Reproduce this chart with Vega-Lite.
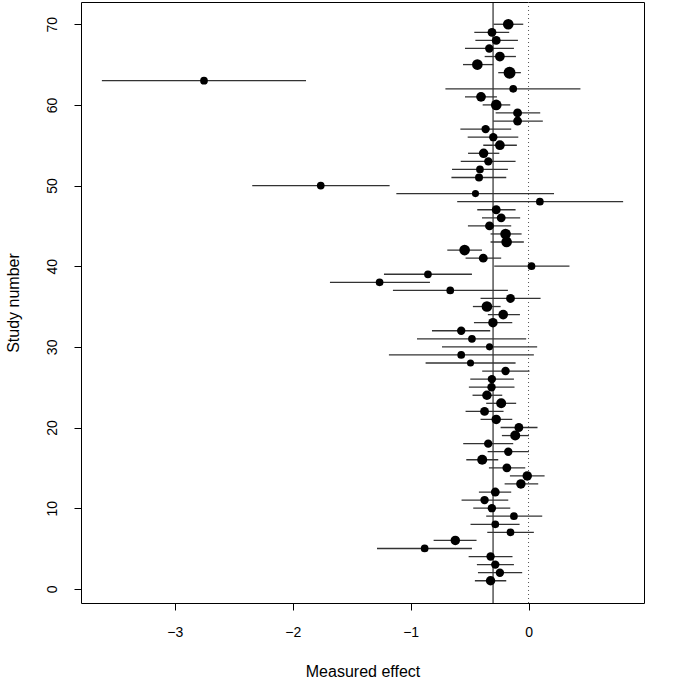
{
  "$schema": "https://vega.github.io/schema/vega-lite/v6.json",
  "width": 563,
  "height": 601,
  "autosize": {"type": "none"},
  "padding": {"left": 81, "top": 2, "right": 41, "bottom": 80},
  "background": "white",
  "config": {
    "view": {"stroke": "black", "strokeWidth": 1},
    "axis": {
      "grid": false,
      "domain": false,
      "ticks": true,
      "tickColor": "black",
      "tickSize": 7,
      "tickWidth": 1,
      "labelFont": "Liberation Sans",
      "labelFontSize": 14,
      "labelColor": "black",
      "titleFont": "Liberation Sans",
      "titleFontSize": 16,
      "titleFontWeight": "normal",
      "titleColor": "black",
      "format": "d"
    },
    "axisX": {"labelPadding": 15, "titlePadding": 24},
    "axisY": {"labelAngle": -90, "labelAlign": "center", "labelBaseline": "bottom", "labelPadding": 15, "titlePadding": 24}
  },
  "data": {
    "values": [
      {"study": 1, "est": -0.322, "lo": -0.455, "hi": -0.189, "w": 11.4},
      {"study": 2, "est": -0.243, "lo": -0.429, "hi": -0.054, "w": 9.0},
      {"study": 3, "est": -0.282, "lo": -0.438, "hi": -0.124, "w": 9.0},
      {"study": 4, "est": -0.322, "lo": -0.508, "hi": -0.136, "w": 9.0},
      {"study": 5, "est": -0.881, "lo": -1.285, "hi": -0.480, "w": 7.6},
      {"study": 6, "est": -0.621, "lo": -0.805, "hi": -0.441, "w": 11.4},
      {"study": 7, "est": -0.153, "lo": -0.350, "hi": 0.045, "w": 7.6},
      {"study": 8, "est": -0.282, "lo": -0.492, "hi": -0.076, "w": 7.6},
      {"study": 9, "est": -0.124, "lo": -0.359, "hi": 0.116, "w": 7.6},
      {"study": 10, "est": -0.311, "lo": -0.469, "hi": -0.155, "w": 9.0},
      {"study": 11, "est": -0.373, "lo": -0.568, "hi": -0.172, "w": 9.0},
      {"study": 12, "est": -0.282, "lo": -0.421, "hi": -0.147, "w": 10.0},
      {"study": 13, "est": -0.065, "lo": -0.203, "hi": 0.082, "w": 11.4},
      {"study": 14, "est": -0.011, "lo": -0.158, "hi": 0.136, "w": 11.4},
      {"study": 15, "est": -0.184, "lo": -0.336, "hi": -0.028, "w": 10.0},
      {"study": 16, "est": -0.393, "lo": -0.528, "hi": -0.257, "w": 12.8},
      {"study": 17, "est": -0.172, "lo": -0.347, "hi": 0.003, "w": 9.0},
      {"study": 18, "est": -0.342, "lo": -0.554, "hi": -0.130, "w": 9.0},
      {"study": 19, "est": -0.113, "lo": -0.226, "hi": 0.003, "w": 12.8},
      {"study": 20, "est": -0.082, "lo": -0.237, "hi": 0.076, "w": 10.0},
      {"study": 21, "est": -0.274, "lo": -0.407, "hi": -0.138, "w": 11.4},
      {"study": 22, "est": -0.373, "lo": -0.534, "hi": -0.212, "w": 10.0},
      {"study": 23, "est": -0.232, "lo": -0.359, "hi": -0.105, "w": 12.8},
      {"study": 24, "est": -0.353, "lo": -0.475, "hi": -0.223, "w": 11.4},
      {"study": 25, "est": -0.314, "lo": -0.506, "hi": -0.119, "w": 9.0},
      {"study": 26, "est": -0.311, "lo": -0.494, "hi": -0.124, "w": 9.0},
      {"study": 27, "est": -0.195, "lo": -0.393, "hi": 0.008, "w": 9.0},
      {"study": 28, "est": -0.492, "lo": -0.873, "hi": -0.110, "w": 6.4},
      {"study": 29, "est": -0.571, "lo": -1.184, "hi": 0.045, "w": 7.6},
      {"study": 30, "est": -0.331, "lo": -0.734, "hi": 0.073, "w": 6.4},
      {"study": 31, "est": -0.480, "lo": -0.946, "hi": -0.020, "w": 7.6},
      {"study": 32, "est": -0.571, "lo": -0.819, "hi": -0.325, "w": 9.0},
      {"study": 33, "est": -0.302, "lo": -0.463, "hi": -0.138, "w": 11.4},
      {"study": 34, "est": -0.215, "lo": -0.345, "hi": -0.073, "w": 12.1},
      {"study": 35, "est": -0.353, "lo": -0.472, "hi": -0.237, "w": 14.4},
      {"study": 36, "est": -0.153, "lo": -0.407, "hi": 0.102, "w": 10.0},
      {"study": 37, "est": -0.664, "lo": -1.150, "hi": -0.175, "w": 7.6},
      {"study": 38, "est": -1.263, "lo": -1.684, "hi": -0.836, "w": 7.6},
      {"study": 39, "est": -0.853, "lo": -1.226, "hi": -0.480, "w": 7.6},
      {"study": 40, "est": 0.025, "lo": -0.291, "hi": 0.347, "w": 7.6},
      {"study": 41, "est": -0.384, "lo": -0.534, "hi": -0.232, "w": 10.0},
      {"study": 42, "est": -0.542, "lo": -0.689, "hi": -0.395, "w": 14.4},
      {"study": 43, "est": -0.186, "lo": -0.322, "hi": -0.040, "w": 14.4},
      {"study": 44, "est": -0.195, "lo": -0.322, "hi": -0.059, "w": 14.4},
      {"study": 45, "est": -0.331, "lo": -0.514, "hi": -0.147, "w": 10.0},
      {"study": 46, "est": -0.232, "lo": -0.395, "hi": -0.071, "w": 10.0},
      {"study": 47, "est": -0.274, "lo": -0.435, "hi": -0.110, "w": 10.0},
      {"study": 48, "est": 0.096, "lo": -0.605, "hi": 0.802, "w": 7.6},
      {"study": 49, "est": -0.450, "lo": -1.121, "hi": 0.216, "w": 6.4},
      {"study": 50, "est": -1.762, "lo": -2.343, "hi": -1.178, "w": 7.6},
      {"study": 51, "est": -0.420, "lo": -0.654, "hi": -0.189, "w": 8.1},
      {"study": 52, "est": -0.412, "lo": -0.649, "hi": -0.175, "w": 7.6},
      {"study": 53, "est": -0.341, "lo": -0.575, "hi": -0.110, "w": 9.0},
      {"study": 54, "est": -0.381, "lo": -0.513, "hi": -0.248, "w": 11.4},
      {"study": 55, "est": -0.243, "lo": -0.384, "hi": -0.099, "w": 12.1},
      {"study": 56, "est": -0.299, "lo": -0.516, "hi": -0.087, "w": 9.0},
      {"study": 57, "est": -0.364, "lo": -0.578, "hi": -0.147, "w": 9.0},
      {"study": 58, "est": -0.093, "lo": -0.299, "hi": 0.121, "w": 10.0},
      {"study": 59, "est": -0.093, "lo": -0.279, "hi": 0.099, "w": 10.0},
      {"study": 60, "est": -0.274, "lo": -0.389, "hi": -0.155, "w": 14.4},
      {"study": 61, "est": -0.403, "lo": -0.539, "hi": -0.268, "w": 12.1},
      {"study": 62, "est": -0.130, "lo": -0.705, "hi": 0.440, "w": 7.6},
      {"study": 63, "est": -2.752, "lo": -3.618, "hi": -1.887, "w": 7.6},
      {"study": 64, "est": -0.161, "lo": -0.257, "hi": -0.065, "w": 18.2},
      {"study": 65, "est": -0.434, "lo": -0.556, "hi": -0.299, "w": 14.4},
      {"study": 66, "est": -0.243, "lo": -0.372, "hi": -0.107, "w": 12.1},
      {"study": 67, "est": -0.333, "lo": -0.539, "hi": -0.124, "w": 9.0},
      {"study": 68, "est": -0.274, "lo": -0.451, "hi": -0.090, "w": 10.0},
      {"study": 69, "est": -0.310, "lo": -0.460, "hi": -0.164, "w": 10.0},
      {"study": 70, "est": -0.172, "lo": -0.296, "hi": -0.045, "w": 14.4}
    ]
  },
  "layer": [
    {
      "data": {"values": [{"ref": 0}]},
      "mark": {"type": "rule", "color": "#555555", "strokeWidth": 1, "strokeDash": [1, 3]},
      "encoding": {
        "x": {"field": "ref", "type": "quantitative", "title": "Measured effect"}
      }
    },
    {
      "data": {"values": [{"pooled": -0.301}]},
      "mark": {"type": "rule", "color": "black", "strokeWidth": 1},
      "encoding": {
        "x": {"field": "pooled", "type": "quantitative", "title": "Measured effect"}
      }
    },
    {
      "mark": {"type": "rule", "color": "#333333", "strokeWidth": 1.3},
      "encoding": {
        "x": {
          "field": "lo", "type": "quantitative", "title": "Measured effect",
          "scale": {"domain": [-3.795, 0.979], "nice": false, "zero": false},
          "axis": {"values": [-3, -2, -1, 0]}
        },
        "x2": {"field": "hi"},
        "y": {
          "field": "study", "type": "quantitative", "title": "Study number",
          "scale": {"domain": [-1.76, 72.76], "nice": false, "zero": false},
          "axis": {"values": [0, 10, 20, 30, 40, 50, 60, 70]}
        }
      }
    },
    {
      "mark": {"type": "point", "filled": true, "shape": "circle", "color": "black", "opacity": 1, "strokeWidth": 0},
      "encoding": {
        "x": {"field": "est", "type": "quantitative", "title": "Measured effect"},
        "y": {"field": "study", "type": "quantitative", "title": "Study number"},
        "size": {
          "field": "w", "type": "quantitative",
          "scale": {"type": "linear", "domain": [0, 20], "range": [0, 157.08]},
          "legend": null
        }
      }
    }
  ]
}
